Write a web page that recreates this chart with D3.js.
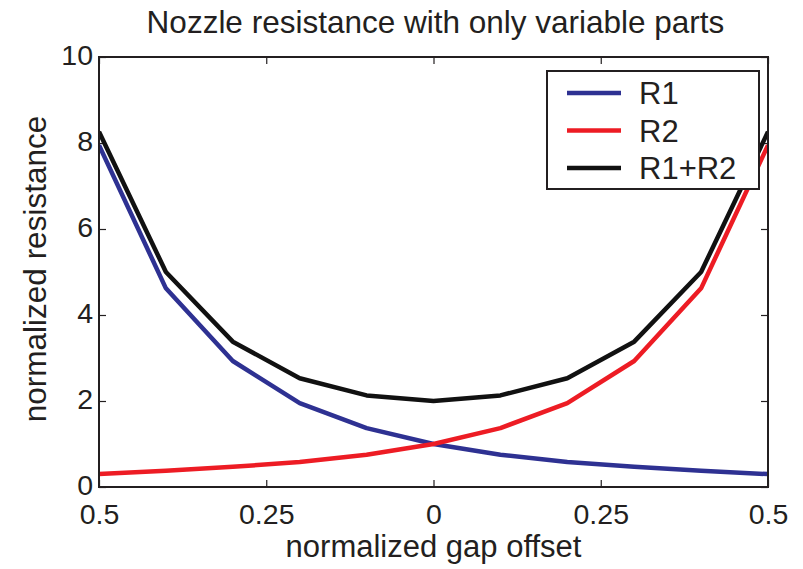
<!DOCTYPE html>
<html>
<head>
<meta charset="utf-8">
<script src="https://cdn.jsdelivr.net/npm/d3@7"></script>
<style>
  body { margin: 0; background: #fff; }
  svg text { font-family: "Liberation Sans", Arial, sans-serif; fill: #231f20; }
</style>
</head>
<body>
<svg class="chart-svg" width="803" height="569"></svg>
<script>
var offsets = [-0.5, -0.4, -0.3, -0.2, -0.1, 0, 0.1, 0.2, 0.3, 0.4, 0.5];
var r1 = [7.95, 4.62, 2.93, 1.95, 1.37, 1.0, 0.75, 0.58, 0.47, 0.38, 0.3];
var r2 = [0.3, 0.38, 0.47, 0.58, 0.75, 1.0, 1.37, 1.95, 2.93, 4.62, 7.95];
var r12 = [8.26, 5.0, 3.38, 2.53, 2.13, 2.0, 2.13, 2.53, 3.38, 5.0, 8.26];

var xTicks = [-0.5, -0.25, 0, 0.25, 0.5];
var xTickLabels = ["0.5", "0.25", "0", "0.25", "0.5"];
var yTicks = [0, 2, 4, 6, 8, 10];

var seriesNames = ["R1", "R2", "R1+R2"];
var seriesColors = ["#2e3192", "#ed1c24", "#111111"];

var boxLeft = 99, boxRight = 768, boxTop = 57, boxBottom = 487;

var svg = d3.select(".chart-svg");

var x = d3.scaleLinear().domain([-0.5, 0.5]).range([boxLeft, boxRight]);
var y = d3.scaleLinear().domain([0, 10]).range([boxBottom, boxTop]);

// clip to the axes box
svg.append("clipPath").attr("id", "plotclip")
    .append("rect")
    .attr("x", boxLeft).attr("y", boxTop)
    .attr("width", boxRight - boxLeft).attr("height", boxBottom - boxTop);

// axes with inward ticks, MATLAB style
svg.append("g")
    .attr("transform", "translate(0," + boxBottom + ")")
    .call(d3.axisBottom(x).tickValues(xTicks).tickSizeInner(-7).tickSizeOuter(0)
        .tickFormat(function(d, i) { return xTickLabels[i]; }))
    .call(function(g) {
        g.select(".domain").remove();
        g.selectAll("text").attr("dy", null).attr("y", 37).style("font-size", "28.5px");
    });
svg.append("g")
    .attr("transform", "translate(0," + boxTop + ")")
    .call(d3.axisTop(x).tickValues(xTicks).tickSizeInner(-7).tickSizeOuter(0).tickFormat(""))
    .call(function(g) { g.select(".domain").remove(); });
svg.append("g")
    .attr("transform", "translate(" + boxLeft + ",0)")
    .call(d3.axisLeft(y).tickValues(yTicks).tickSizeInner(-7).tickSizeOuter(0))
    .call(function(g) {
        g.select(".domain").remove();
        g.selectAll("text").attr("x", -6).attr("dy", "0.25em").style("font-size", "28.5px");
    });
svg.append("g")
    .attr("transform", "translate(" + boxRight + ",0)")
    .call(d3.axisRight(y).tickValues(yTicks).tickSizeInner(-7).tickSizeOuter(0).tickFormat(""))
    .call(function(g) { g.select(".domain").remove(); });

svg.selectAll(".tick line").attr("stroke", "#231f20").attr("stroke-width", 1.2);

// lines
var allSeries = [r1, r2, r12];
var line = d3.line()
    .x(function(d, i) { return x(offsets[i]); })
    .y(function(d) { return y(d); });

svg.append("g").attr("clip-path", "url(#plotclip)")
    .selectAll("path")
    .data(allSeries).enter()
    .append("path")
    .attr("fill", "none")
    .attr("stroke", function(d, i) { return seriesColors[i]; })
    .attr("stroke-width", 4.5)
    .attr("stroke-linejoin", "round")
    .attr("d", line);

// axes box
svg.append("rect")
    .attr("x", boxLeft).attr("y", boxTop)
    .attr("width", boxRight - boxLeft).attr("height", boxBottom - boxTop)
    .attr("fill", "none").attr("stroke", "#231f20").attr("stroke-width", 2);

// legend
var leg = svg.append("g");
leg.append("rect")
    .attr("x", 547).attr("y", 71).attr("width", 212).attr("height", 118)
    .attr("fill", "#fff").attr("stroke", "#231f20").attr("stroke-width", 2);
leg.selectAll("line")
    .data(seriesNames).enter()
    .append("line")
    .attr("x1", 567).attr("x2", 621)
    .attr("y1", function(d, i) { return 93 + i * 37.5; })
    .attr("y2", function(d, i) { return 93 + i * 37.5; })
    .attr("stroke", function(d, i) { return seriesColors[i]; })
    .attr("stroke-width", 4.5);
leg.selectAll("text")
    .data(seriesNames).enter()
    .append("text")
    .attr("x", 639)
    .attr("y", function(d, i) { return 93 + i * 37.5; })
    .attr("dy", "0.36em")
    .style("font-size", "31px")
    .text(function(d) { return d; });

// title and axis labels
svg.append("text")
    .attr("x", (boxLeft + boxRight) / 2 + 2).attr("y", 33)
    .attr("text-anchor", "middle")
    .style("font-size", "31.5px")
    .text("Nozzle resistance with only variable parts");
svg.append("text")
    .attr("x", (boxLeft + boxRight) / 2).attr("y", 557)
    .attr("text-anchor", "middle")
    .style("font-size", "31px")
    .text("normalized gap offset");
svg.append("text")
    .attr("transform", "translate(46," + ((boxTop + boxBottom) / 2 - 3) + ") rotate(-90)")
    .attr("text-anchor", "middle")
    .style("font-size", "31.5px")
    .text("normalized resistance");
</script>
</body>
</html>
